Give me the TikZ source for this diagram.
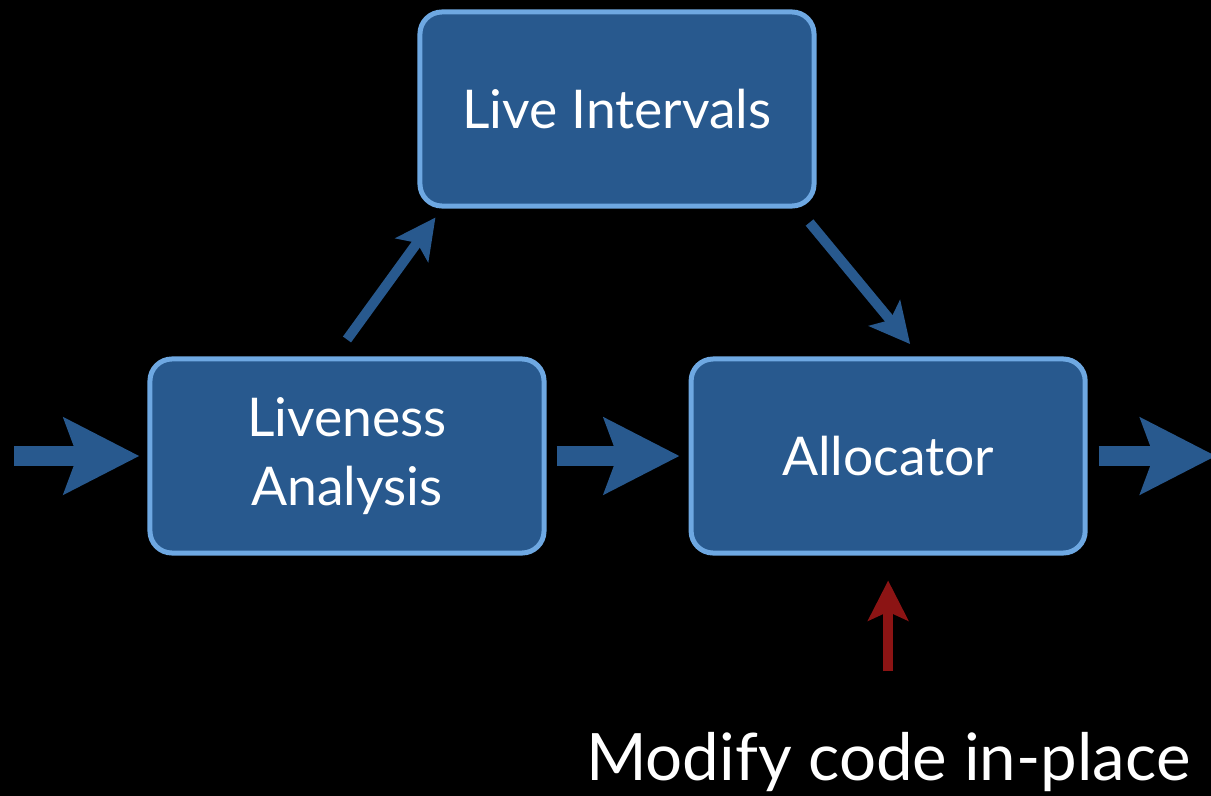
\documentclass[tikz,border=0pt]{standalone}
\usepackage{fontspec}
\setmainfont{Lato}
\usetikzlibrary{arrows.meta,positioning}
\definecolor{boxfill}{RGB}{40,89,142}
\definecolor{boxline}{RGB}{110,168,226}
\definecolor{arrred}{RGB}{140,20,20}

\begin{document}
\begin{tikzpicture}[
  x=0.025cm,y=-0.025cm,
  every node/.style={font=\fontsize{38}{49}\selectfont,align=center,text=white},
  box/.style={draw=boxline,line width=0.125cm,rounded corners=0.55cm,fill=boxfill,
    minimum width=9.85cm,minimum height=4.85cm},
  bigarr/.style={-{Stealth[length=1.875cm,width=1.875cm,inset=0.325cm]},line width=0.5cm,draw=boxfill},
  arr/.style={-{Stealth[length=1cm,width=1cm,inset=0.22cm]},line width=0.25cm,draw=boxfill},
  redarr/.style={arr,draw=arrred}
]
\fill[black] (0,0) rectangle (1211,796);
\useasboundingbox (0,0) rectangle (1211,796);

\node[box] (liveness) at (347,456) {Liveness\\Analysis};
\node[box,right=3.55cm of liveness] (alloc) {Allocator};
\node[box] (intervals) at (617,109) {Live Intervals};
\node[font=\fontsize{46.5}{56}\selectfont,anchor=base] (modify) at ([yshift=-5.625cm]alloc.south) {Modify code in-place};
\coordinate (in) at (14,456);
\coordinate (out) at (1216,456);

\draw[bigarr] (in) -- ([xshift=-0.2cm]liveness.west);
\draw[bigarr] ([xshift=0.25cm]liveness.east) -- ([xshift=-0.225cm]alloc.west);
\draw[bigarr] ([xshift=0.275cm]alloc.east) -- (out);
\draw[arr] ([yshift=0.425cm]liveness.north) -- ([shift={(0.45cm,-0.225cm)}]intervals.south west);
\draw[arr] ([shift={(-0.175cm,-0.35cm)}]intervals.south east) -- ([shift={(0.55cm,0.31cm)}]alloc.north);
\draw[redarr] ([yshift=1.4cm]modify.north) -- ([yshift=-0.625cm]alloc.south);
\end{tikzpicture}
\end{document}
